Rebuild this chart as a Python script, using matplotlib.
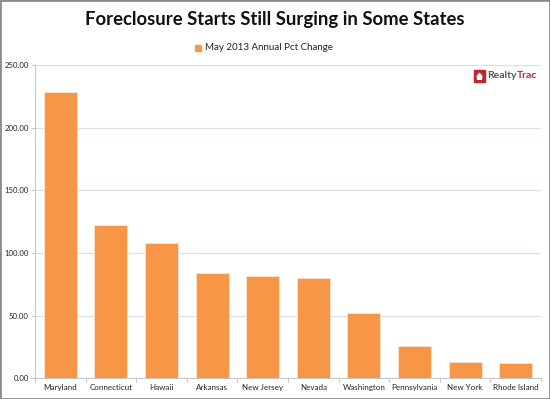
import matplotlib.pyplot as plt
import numpy as np
from matplotlib.patches import Rectangle, Polygon

# ---------- data ----------
states = ['Maryland', 'Connecticut', 'Hawaii', 'Arkansas', 'New Jersey',
          'Nevada', 'Washington', 'Pennsylvania', 'New York', 'Rhode Island']
pct_change = [228.7, 122.2, 108.0, 83.8, 81.4, 80.3, 52.4, 26.0, 13.3, 12.0]
yticks = [0, 50, 100, 150, 200, 250]

plt.rcParams['font.family'] = ['Lato', 'DejaVu Sans']
orange = '#F79646'

fig = plt.figure(figsize=(5.5, 3.99), dpi=100)
ax = fig.add_axes([35 / 550, 1 - 378.3 / 399, 506 / 550, 313.3 / 399])

x = np.arange(len(states))
ax.bar(x, pct_change, width=0.65, color=orange, edgecolor='#FCE4D0', linewidth=0.6,
       label='May 2013 Annual Pct Change', zorder=3)

ax.set_xlim(-0.5, len(states) - 0.5)
ax.set_ylim(0, 250)
ax.set_yticks(yticks)
ax.set_yticklabels([f'{v:.2f}' for v in yticks], fontsize=5.6, color='#222222')
ax.set_xticks(x)
ax.set_xticklabels(states, fontsize=5.8, color='#222222')
ax.set_xticks(np.arange(-0.5, len(states) + 0.5, 1), minor=True)
ax.tick_params(axis='x', which='major', length=0, pad=4)
ax.tick_params(axis='x', which='minor', length=3, color='#BBBBBB', width=0.6)
ax.tick_params(axis='y', length=3, color='#BBBBBB', width=0.6, pad=1.5)
ax.grid(axis='y', color='#D9E1EE', linewidth=0.9, zorder=0)

for side in ['top', 'right']:
    ax.spines[side].set_visible(False)
ax.spines['left'].set_color('#BBBBBB')
ax.spines['bottom'].set_color('#BBBBBB')
ax.spines['left'].set_linewidth(0.6)
ax.spines['bottom'].set_linewidth(0.6)

# title + legend
fig.text(0.5, 1 - 20 / 399, 'Foreclosure Starts Still Surging in Some States',
         ha='center', va='center', fontsize=13.3, fontweight='bold', color='#111111')
fig.patches.append(Rectangle((195 / 550, 1 - 50.5 / 399), 6 / 550, 6 / 399,
                             transform=fig.transFigure, color=orange))
fig.text(205 / 550, 1 - 47 / 399, 'May 2013 Annual Pct Change',
         ha='left', va='center', fontsize=7, color='#222222')

# RealtyTrac logo
fig.patches.append(Rectangle((474 / 550, 1 - 82 / 399), 11 / 550, 12 / 399,
                             transform=fig.transFigure, color='#C0272D'))
fig.patches.append(Polygon([(476.5 / 550, 1 - 76 / 399), (479.5 / 550, 1 - 72.5 / 399),
                            (482.5 / 550, 1 - 76 / 399), (482 / 550, 1 - 80 / 399),
                            (477 / 550, 1 - 80 / 399)],
                           transform=fig.transFigure, closed=True,
                           facecolor='white', edgecolor='none'))
t1 = fig.text(487 / 550, 1 - 76 / 399, 'Realty', ha='left', va='center',
              fontsize=7.5, fontweight='bold', color='#555555')
ax.annotate('Trac', xy=(1, 0.5), xycoords=t1, ha='left', va='center',
            fontsize=7.5, fontweight='bold', color='#C0272D', annotation_clip=False)

# outer frame
fig.patches.append(Rectangle((0, 0), 1, 1, transform=fig.transFigure,
                             fill=False, edgecolor='#8C8C8C', linewidth=2))

fig.savefig('out.png', dpi=100)
